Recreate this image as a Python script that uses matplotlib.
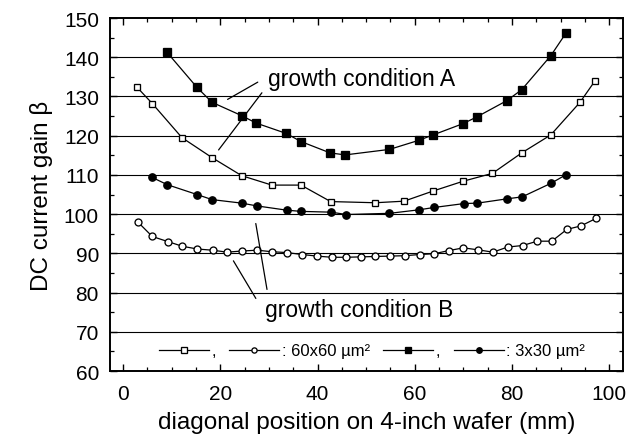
import matplotlib
matplotlib.use("Agg")
import matplotlib.pyplot as plt
from matplotlib.ticker import MultipleLocator

plt.rcParams['font.family'] = ['Liberation Sans', 'DejaVu Sans']

# ---- data ----
# growth condition A, 3x30 um^2 (filled squares)
x_A_small = [9.0, 15.2, 18.3, 24.4, 27.4, 33.5, 36.6, 42.6, 45.7, 54.8, 60.8, 63.8,
             70.0, 72.8, 78.9, 82.0, 88.0, 91.2]
y_A_small = [141.3, 132.3, 128.5, 125.1, 123.2, 120.6, 118.5, 115.6, 115.1, 116.5, 118.8,
             120.2, 123.1, 124.8, 128.9, 131.7, 140.4, 146.3]
# growth condition A, 60x60 um^2 (open squares)
x_A_large = [2.9, 6.0, 12.1, 18.3, 24.4, 30.6, 36.6, 42.7, 51.9, 57.8, 63.8, 70.0,
             76.0, 82.0, 88.0, 94.0, 97.1]
y_A_large = [132.3, 128.2, 119.5, 114.4, 109.8, 107.4, 107.4, 103.2, 102.9, 103.3, 105.9,
             108.4, 110.4, 115.6, 120.2, 128.5, 134.0]
# growth condition B, 3x30 um^2 (filled circles)
x_B_small = [5.9, 9.1, 15.2, 18.3, 24.4, 27.5, 33.7, 36.6, 42.8, 45.9, 54.8, 60.9,
             64.0, 70.2, 72.9, 79.0, 82.1, 88.1, 91.2]
y_B_small = [109.4, 107.5, 105.0, 103.7, 102.8, 102.1, 101.0, 100.7, 100.5, 99.9, 100.2,
             101.1, 101.7, 102.7, 102.8, 103.9, 104.4, 107.9, 110.1]
# growth condition B, 60x60 um^2 (open circles)
x_B_large = [3.1, 6.0, 9.2, 12.2, 15.3, 18.4, 21.4, 24.5, 27.6, 30.7, 33.7, 36.8,
             39.9, 42.9, 45.9, 49.0, 51.9, 54.9, 58.0, 61.0, 64.0, 67.0, 70.0, 73.0,
             76.1, 79.1, 82.2, 85.2, 88.2, 91.3, 94.2, 97.3]
y_B_large = [97.9, 94.3, 93.0, 91.8, 91.1, 90.8, 90.3, 90.6, 90.8, 90.4, 90.2, 89.7,
             89.3, 89.0, 89.0, 89.1, 89.2, 89.3, 89.4, 89.7, 89.9, 90.7, 91.4, 90.9,
             90.3, 91.6, 92.0, 93.1, 93.1, 96.1, 97.0, 98.9]

xlabel = "diagonal position on 4-inch wafer (mm)"
ylabel = "DC current gain \u03b2"
label_A = "growth condition A"
label_B = "growth condition B"
legend_labels = [",", ": 60x60 \u00b5m\u00b2", ",", ": 3x30 \u00b5m\u00b2"]

# ---- figure ----
fig = plt.figure(figsize=(6.44, 4.35), dpi=100)
ax = fig.add_axes([0.1708, 0.1448, 0.7962, 0.8115])

ax.set_xlim(-2.7, 102.8)
ax.set_ylim(60, 150)

for yv in range(70, 150, 10):
    ax.axhline(yv, color='black', lw=0.8, zorder=1)

common = dict(color='black', lw=0.9, markeredgecolor='black', mew=0.95, zorder=3)
l1, = ax.plot(x_A_large, y_A_large, marker='s', ms=5.0, markerfacecolor='white', **common)
l2, = ax.plot(x_B_large, y_B_large, marker='o', ms=5.0, markerfacecolor='white', **common)
l3, = ax.plot(x_A_small, y_A_small, marker='s', ms=5.3, markerfacecolor='black', **common)
l4, = ax.plot(x_B_small, y_B_small, marker='o', ms=5.3, markerfacecolor='black', **common)

ax.xaxis.set_major_locator(MultipleLocator(20))
ax.xaxis.set_minor_locator(MultipleLocator(5))
ax.yaxis.set_major_locator(MultipleLocator(10))
ax.yaxis.set_minor_locator(MultipleLocator(5))
ax.tick_params(which='both', direction='in', top=True, right=True, colors='black')
ax.tick_params(which='major', length=5, width=1.0, labelsize=15)
ax.tick_params(which='minor', length=3, width=0.9)
ax.tick_params(axis='x', which='major', pad=9)
ax.tick_params(axis='y', which='major', pad=8)
for s in ax.spines.values():
    s.set_linewidth(1.4)

ax.set_xlabel(xlabel, fontsize=17.5, labelpad=6)
ax.set_ylabel(ylabel, fontsize=17.5, labelpad=8)

# annotations
ax.text(29.8, 134.7, label_A, fontsize=16.5, ha='left', va='center')
ax.annotate("", xy=(21.0, 128.9), xytext=(28.2, 134.0),
            arrowprops=dict(arrowstyle='-', color='black', lw=0.9))
ax.annotate("", xy=(19.3, 115.8), xytext=(28.9, 131.5),
            arrowprops=dict(arrowstyle='-', color='black', lw=0.9))
ax.text(29.2, 75.8, label_B, fontsize=16.5, ha='left', va='center')
ax.annotate("", xy=(22.4, 88.7), xytext=(27.6, 77.9),
            arrowprops=dict(arrowstyle='-', color='black', lw=0.9))
ax.annotate("", xy=(27.2, 98.3), xytext=(29.7, 80.1),
            arrowprops=dict(arrowstyle='-', color='black', lw=0.9))

leg = ax.legend([l1, l2, l3, l4], legend_labels, ncol=4, loc='center',
                bbox_to_anchor=(0.511, 0.057), frameon=False, fontsize=12,
                handlelength=3.0, handletextpad=0.15, columnspacing=0.8,
                borderpad=0.1, borderaxespad=0, markerscale=0.75)

fig.savefig("out.png", dpi=100)
